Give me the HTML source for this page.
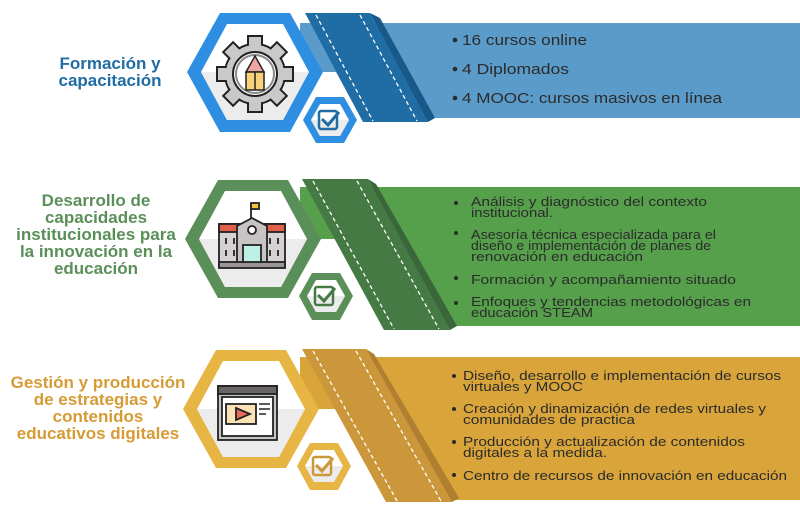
<!DOCTYPE html>
<html><head><meta charset="utf-8"><style>
html,body{margin:0;padding:0;background:#fff;}
svg{display:block;}
text{font-family:"Liberation Sans",sans-serif;}
</style></head><body>
<svg width="800" height="515" viewBox="0 0 800 515" xmlns="http://www.w3.org/2000/svg">
<!-- ============ SECTION 1 (blue) ============ -->
<polygon points="300,23 800,23 800,118 361,118 336,72 300,72" fill="#5b9bc9"/>
<polygon points="305,13 370,13 428,122 363,122" fill="#1f6da4"/>
<polygon points="370,13 380,18 435,118 428,122" fill="#18598a"/>
<line x1="316" y1="15" x2="373" y2="121" stroke="#fff" stroke-width="1.3" stroke-dasharray="4,3"/>
<line x1="360" y1="15" x2="417" y2="121" stroke="#fff" stroke-width="1.3" stroke-dasharray="4,3"/>
<polygon points="187,72 220,13 290,13 323,72 290,132 220,132" fill="#2e8fe2"/>
<polygon points="201,72 227,24 283,24 309,72 283,120 227,120" fill="#fff"/>
<polygon points="201,72 309,72 283,120 227,120" fill="#ececec"/>
<g transform="translate(255,74)">
<g fill="#c9c9c9" stroke="#222" stroke-width="2">
<circle r="30"/>
<rect x="-7" y="-38" width="14" height="12"/>
<rect x="-7" y="26" width="14" height="12"/>
<rect x="-38" y="-7" width="12" height="14"/>
<rect x="26" y="-7" width="12" height="14"/>
<rect x="-7" y="-38" width="14" height="12" transform="rotate(45)"/>
<rect x="-7" y="-38" width="14" height="12" transform="rotate(-45)"/>
<rect x="-7" y="-38" width="14" height="12" transform="rotate(135)"/>
<rect x="-7" y="-38" width="14" height="12" transform="rotate(-135)"/>
</g>
<circle r="29" fill="#c9c9c9"/>
<circle r="22" fill="#fff" stroke="#222" stroke-width="2"/>
<circle r="19" fill="none" stroke="#888" stroke-width="2"/>
<polygon points="-9,-2 0,-18 9,-2" fill="#f0a6a0" stroke="#222" stroke-width="1.5"/>
<rect x="-9" y="-2" width="18" height="18" fill="#f7d27a" stroke="#222" stroke-width="1.5"/>
<line x1="0" y1="-2" x2="0" y2="16" stroke="#222" stroke-width="1.5"/>
</g>
<polygon points="303,120 316,97 344,97 357,120 344,143 316,143" fill="#2e8fe2"/>
<polygon points="311,120 320,104 340,104 349,120 340,136 320,136" fill="#fff"/>
<polygon points="311,120 349,120 340,136 320,136" fill="#ececec"/>
<rect x="319" y="111" width="18" height="18" rx="2" fill="none" stroke="#1f6da4" stroke-width="2.5"/>
<polyline points="322,119 328,125 339,112" fill="none" stroke="#1f6da4" stroke-width="3"/>
<text x="110" y="69" font-size="17" font-weight="bold" fill="#1f6da4" text-anchor="middle">Formación y</text>
<text x="110" y="86" font-size="17" font-weight="bold" fill="#1f6da4" text-anchor="middle">capacitación</text>
<g fill="#2b2b2b" font-size="15">
<circle cx="455" cy="40" r="2.3"/><text x="462" y="45" textLength="125" lengthAdjust="spacingAndGlyphs">16 cursos online</text>
<circle cx="455" cy="69" r="2.3"/><text x="462" y="74" textLength="107" lengthAdjust="spacingAndGlyphs">4 Diplomados</text>
<circle cx="455" cy="98" r="2.3"/><text x="462" y="103" textLength="260" lengthAdjust="spacingAndGlyphs">4 MOOC: cursos masivos en línea</text>
</g>

<!-- ============ SECTION 2 (green) ============ -->
<polygon points="300,187 800,187 800,326 382,326 335,239 300,239" fill="#56a04c"/>
<polygon points="302,179 368,179 450,330 384,330" fill="#467a45"/>
<polygon points="368,179 376,184 457,326 450,330" fill="#3a663a"/>
<line x1="313" y1="181" x2="394" y2="329" stroke="#fff" stroke-width="1.3" stroke-dasharray="4,3"/>
<line x1="357" y1="181" x2="439" y2="329" stroke="#fff" stroke-width="1.3" stroke-dasharray="4,3"/>
<polygon points="185,239 218,180 288,180 321,239 288,298 218,298" fill="#5b8f59"/>
<polygon points="199,239 225,191 281,191 307,239 281,287 225,287" fill="#fff"/>
<polygon points="199,239 307,239 281,287 225,287" fill="#ececec"/>
<g stroke="#222" stroke-width="1.8">
<line x1="251" y1="204" x2="251" y2="218"/>
<rect x="251" y="203" width="8" height="6" fill="#f5c23c"/>
<rect x="219" y="224" width="22" height="42" fill="#d6d2d2"/>
<rect x="263" y="224" width="22" height="42" fill="#d6d2d2"/>
<rect x="219" y="224" width="22" height="8" fill="#e2604a"/>
<rect x="263" y="224" width="22" height="8" fill="#e2604a"/>
<polygon points="237,226 252,218 267,226 267,266 237,266" fill="#c9c4c4"/>
<circle cx="252" cy="230" r="4" fill="#fff"/>
<rect x="243" y="245" width="18" height="19" fill="#bff0e6"/>
<rect x="219" y="262" width="66" height="6" fill="#9a9494"/>
</g>
<g stroke="#222" stroke-width="1.8">
<line x1="226" y1="238" x2="226" y2="244"/><line x1="234" y1="238" x2="234" y2="244"/>
<line x1="270" y1="238" x2="270" y2="244"/><line x1="278" y1="238" x2="278" y2="244"/>
<line x1="226" y1="250" x2="226" y2="256"/><line x1="234" y1="250" x2="234" y2="256"/>
<line x1="270" y1="250" x2="270" y2="256"/><line x1="278" y1="250" x2="278" y2="256"/>
</g>
<polygon points="299,296 312,273 340,273 353,296 340,320 312,320" fill="#5b8f59"/>
<polygon points="307,296 316,280 336,280 345,296 336,312 316,312" fill="#fff"/>
<polygon points="307,296 345,296 336,312 316,312" fill="#ececec"/>
<rect x="315" y="287" width="18" height="18" rx="2" fill="none" stroke="#467a45" stroke-width="2.5"/>
<polyline points="318,295 324,301 335,288" fill="none" stroke="#467a45" stroke-width="3"/>
<g font-size="17" font-weight="bold" fill="#5b8f59" text-anchor="middle">
<text x="96" y="206">Desarrollo de</text>
<text x="96" y="223">capacidades</text>
<text x="96" y="240">institucionales para</text>
<text x="96" y="257">la innovación en la</text>
<text x="96" y="274">educación</text>
</g>
<g fill="#2b2b2b" font-size="13">
<circle cx="456" cy="203" r="2"/>
<text x="471" y="206" textLength="236" lengthAdjust="spacingAndGlyphs">Análisis y diagnóstico del contexto</text>
<text x="471" y="217" textLength="82" lengthAdjust="spacingAndGlyphs">institucional.</text>
<circle cx="456" cy="233" r="2"/>
<text x="471" y="239" textLength="245" lengthAdjust="spacingAndGlyphs">Asesoría técnica especializada para el</text>
<text x="471" y="250" textLength="240" lengthAdjust="spacingAndGlyphs">diseño e implementación de planes de</text>
<text x="471" y="261" textLength="172" lengthAdjust="spacingAndGlyphs">renovación en educación</text>
<circle cx="456" cy="278" r="2"/>
<text x="471" y="284" textLength="265" lengthAdjust="spacingAndGlyphs">Formación y acompañamiento situado</text>
<circle cx="456" cy="303" r="2"/>
<text x="471" y="306" textLength="280" lengthAdjust="spacingAndGlyphs">Enfoques y tendencias metodológicas en</text>
<text x="471" y="317" textLength="122" lengthAdjust="spacingAndGlyphs">educación STEAM</text>
</g>

<!-- ============ SECTION 3 (gold) ============ -->
<polygon points="300,357 800,357 800,500 385,500 335,409 300,409" fill="#d9a53a"/>
<polygon points="302,349 366,349 452,502 386,502" fill="#cc973a"/>
<polygon points="366,349 374,354 459,498 452,502" fill="#b08030"/>
<line x1="313" y1="351" x2="397" y2="501" stroke="#fff" stroke-width="1.3" stroke-dasharray="4,3"/>
<line x1="356" y1="351" x2="441" y2="501" stroke="#fff" stroke-width="1.3" stroke-dasharray="4,3"/>
<polygon points="183,409 216,350 286,350 319,409 286,468 216,468" fill="#e6b543"/>
<polygon points="197,409 223,361 279,361 305,409 279,457 223,457" fill="#fff"/>
<polygon points="197,409 305,409 279,457 223,457" fill="#ececec"/>
<g stroke="#222" stroke-width="1.8">
<rect x="218" y="386" width="59" height="54" fill="#c8c4c4"/>
<rect x="218" y="386" width="59" height="8" fill="#6b6666"/>
<rect x="222" y="397" width="51" height="39" fill="#fff"/>
<rect x="226" y="404" width="30" height="20" fill="#fbe2b6"/>
<polygon points="236,408 250,414 236,420" fill="#e86b5a"/>
</g>
<g stroke="#222" stroke-width="1.5">
<line x1="259" y1="404" x2="270" y2="404"/><line x1="259" y1="409" x2="270" y2="409"/><line x1="259" y1="414" x2="266" y2="414"/>
</g>
<polygon points="297,466 310,443 338,443 351,466 338,490 310,490" fill="#e6b543"/>
<polygon points="305,466 314,450 334,450 343,466 334,482 314,482" fill="#fff"/>
<polygon points="305,466 343,466 334,482 314,482" fill="#ececec"/>
<rect x="313" y="457" width="18" height="18" rx="2" fill="none" stroke="#cc973a" stroke-width="2.5"/>
<polyline points="316,465 322,471 333,458" fill="none" stroke="#cc973a" stroke-width="3"/>
<g font-size="17" font-weight="bold" fill="#d69b35" text-anchor="middle">
<text x="98" y="388">Gestión y producción</text>
<text x="98" y="405">de estrategias y</text>
<text x="98" y="422">contenidos</text>
<text x="98" y="439">educativos digitales</text>
</g>
<g fill="#2b2b2b" font-size="13">
<circle cx="454" cy="376" r="2"/>
<text x="463" y="380" textLength="318" lengthAdjust="spacingAndGlyphs">Diseño, desarrollo e implementación de cursos</text>
<text x="463" y="391" textLength="120" lengthAdjust="spacingAndGlyphs">virtuales y MOOC</text>
<circle cx="454" cy="409" r="2"/>
<text x="463" y="413" textLength="303" lengthAdjust="spacingAndGlyphs">Creación y dinamización de redes virtuales y</text>
<text x="463" y="424" textLength="172" lengthAdjust="spacingAndGlyphs">comunidades de practica</text>
<circle cx="454" cy="442" r="2"/>
<text x="463" y="446" textLength="282" lengthAdjust="spacingAndGlyphs">Producción y actualización de contenidos</text>
<text x="463" y="457" textLength="144" lengthAdjust="spacingAndGlyphs">digitales a la medida.</text>
<circle cx="454" cy="475" r="2"/>
<text x="463" y="480" textLength="324" lengthAdjust="spacingAndGlyphs">Centro de recursos de innovación en educación</text>
</g>
</svg>
</body></html>
